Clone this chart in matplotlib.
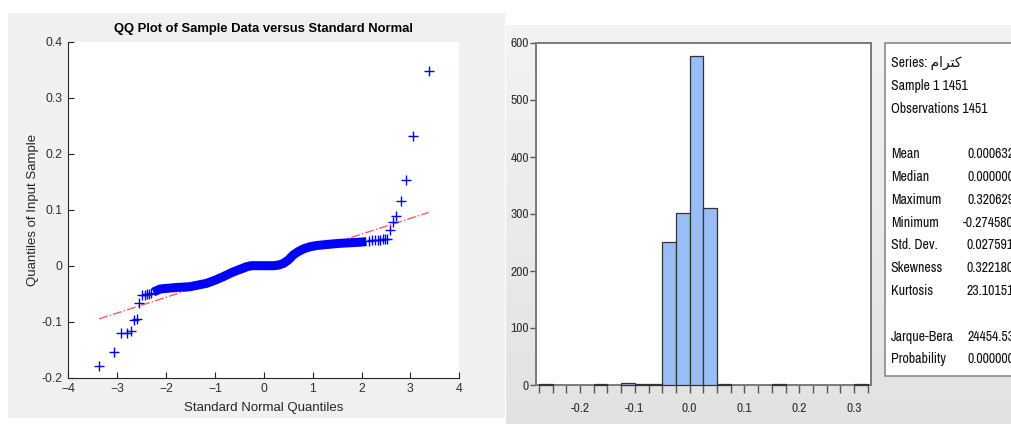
import matplotlib
matplotlib.use("Agg")
import matplotlib.pyplot as plt
import numpy as np
from matplotlib.patches import Rectangle
from matplotlib.ticker import FormatStrFormatter
from matplotlib import font_manager

# --- QQ plot data ---
# dense middle part of the sample quantiles, drawn as a thick band
band_x = [-2.26, -2.12, -1.80, -1.51, -1.17, -1.00, -0.83, -0.65, -0.49, -0.36, -0.26,
          0.00, 0.19, 0.30, 0.40, 0.50, 0.60, 0.70, 0.81, 0.95, 1.08, 1.30, 1.56, 1.97, 2.10]
band_y = [-0.047, -0.0416, -0.039, -0.0375, -0.0315, -0.026, -0.0196, -0.012, -0.0065, -0.002, 0.000,
          0.000, 0.000, 0.001, 0.004, 0.010, 0.019, 0.025, 0.030, 0.034, 0.036, 0.038, 0.040, 0.042, 0.043]
# single markers in both tails
tail_x = [-3.37, -3.06, -2.92, -2.80, -2.72, -2.65, -2.59, -2.55, -2.49, -2.44, -2.40, -2.35, -2.30,
          2.15, 2.22, 2.28, 2.33, 2.38, 2.43, 2.48, 2.53, 2.58, 2.64, 2.70, 2.80, 2.91, 3.05, 3.37]
tail_y = [-0.1795, -0.154, -0.121, -0.121, -0.117, -0.097, -0.096, -0.066, -0.0526, -0.052, -0.051, -0.050, -0.049,
          0.044, 0.045, 0.045, 0.046, 0.046, 0.047, 0.047, 0.048, 0.063, 0.078, 0.089, 0.115, 0.153, 0.232, 0.347]
ref_x = [-3.37, 3.37]
ref_y = [-0.095, 0.095]

# --- histogram data ---
bin_width = 0.025
first_edge = -0.275
counts = [1, 0, 0, 0, 1, 0, 3, 1, 1, 250, 302, 577, 311, 2, 0, 0, 0, 1, 0, 0, 0, 0, 0, 1]

stat_names = ["Mean", "Median", "Maximum", "Minimum", "Std. Dev.", "Skewness", "Kurtosis"]
stat_values = ["0.000632", "0.000000", "0.320629", "-0.274580", "0.027591", "0.322180", "23.10151"]
test_names = ["Jarque-Bera", "Probability"]
test_values = ["24454.53", "0.000000"]
# series name in Arabic (كترام), written in presentation forms in visual order
series_name = "\uFEE1\uFE8D\uFEAE\uFE98\uFEDB"

W, H = 1011, 424
fig = plt.figure(figsize=(W / 100, H / 100), dpi=100, facecolor="white")


def px_box(x0, y0, x1, y1):
    # pixel box (top-left origin) -> figure fraction rect
    return [x0 / W, 1 - y1 / H, (x1 - x0) / W, (y1 - y0) / H]


# look for a condensed face (EViews uses Arial Narrow), else shrink Liberation Sans
narrow = None
for f in font_manager.fontManager.ttflist:
    if ("Narrow" in f.name or "Condensed" in f.name) and f.style == "normal":
        narrow = f.name
        break
if narrow is None:
    narrow = "Liberation Sans"
    stat_fs, tick_fs = 8.2, 8.5
else:
    stat_fs, tick_fs = 10.0, 9.8

# panel backgrounds
fig.patches.append(Rectangle((8 / W, 1 - 418 / H), (505 - 8) / W, (418 - 13) / H,
                             transform=fig.transFigure, facecolor="#f0f0f0", edgecolor="none", zorder=-5))
bg = fig.add_axes(px_box(506, 25, W, H), zorder=-5)
bg.imshow(np.linspace(0, 1, 100)[:, None], aspect="auto", cmap=matplotlib.colors.LinearSegmentedColormap.from_list(
    "g", ["#f3f3f3", "#e2e2e2"]), extent=(0, 1, 0, 1))
bg.axis("off")

# ---------------- QQ plot ----------------
ax = fig.add_axes(px_box(68.3, 41.7, 459.3, 377.7))
ax.plot(ref_x, ref_y, color="#ff3030", lw=1.0, ls="-.", alpha=0.8, zorder=1)
ax.plot(band_x, band_y, color="#0000ff", lw=6.5, solid_capstyle="butt", solid_joinstyle="round", zorder=2)
ax.plot(tail_x, tail_y, "+", color="#0000ff", ms=6.5, mew=1.0, zorder=3)
ax.set_xlim(-4, 4)
ax.set_ylim(-0.2, 0.4)
ax.set_xticks(np.arange(-4, 5, 1))
ax.set_yticks(np.arange(-0.2, 0.41, 0.1))
ax.set_yticklabels(["-0.2", "-0.1", "0", "0.1", "0.2", "0.3", "0.4"])
ax.spines["top"].set_visible(False)
ax.spines["right"].set_visible(False)
for s in ["left", "bottom"]:
    ax.spines[s].set_color("#262626")
    ax.spines[s].set_linewidth(0.8)
ax.tick_params(direction="in", length=4, width=0.8, color="#262626", labelcolor="#303030",
               labelsize=8.8, pad=4)
for lab in ax.get_xticklabels() + ax.get_yticklabels():
    lab.set_family("Liberation Sans")
ax.set_title("QQ Plot of Sample Data versus Standard Normal", fontsize=9.4, fontweight="bold",
             family="Liberation Sans", color="#000000", pad=7)
ax.set_xlabel("Standard Normal Quantiles", fontsize=9.5, family="Liberation Sans", color="#262626", labelpad=5)
ax.set_ylabel("Quantiles of Input Sample", fontsize=9.5, family="Liberation Sans", color="#262626", labelpad=2)

# ---------------- histogram ----------------
hx = fig.add_axes(px_box(535.7, 43, 871, 385))
edges = first_edge + bin_width * np.arange(len(counts) + 1)
cnt = np.array(counts)
keep = cnt > 0
hx.bar(edges[:-1][keep], cnt[keep], width=bin_width, align="edge", color="#99bdf7",
       edgecolor="#333333", linewidth=0.9, zorder=3, clip_on=False)
hx.set_xlim(-0.281, 0.331)
hx.set_ylim(0, 600)
hx.set_yticks(np.arange(0, 601, 100))
hx.set_xticks(np.arange(-0.2, 0.31, 0.1))
hx.xaxis.set_major_formatter(FormatStrFormatter("%.1f"))
hx.set_xticks(edges, minor=True)
for s in hx.spines.values():
    s.set_color("#7a7a7a")
    s.set_linewidth(1.4)
hx.tick_params(which="both", direction="out", color="#555555", width=1.0)
hx.tick_params(axis="x", which="both", length=6, pad=7)
hx.tick_params(axis="y", length=4, pad=1)
hx.tick_params(labelsize=tick_fs, labelcolor="#333333")
for lab in hx.get_xticklabels() + hx.get_yticklabels():
    lab.set_family(narrow)

# ---------------- statistics box ----------------
fig.patches.append(Rectangle((885 / W, 1 - 376 / H), 200 / W, (376 - 43) / H,
                             transform=fig.transFigure, facecolor="white", edgecolor="#8a8a8a",
                             linewidth=1.2, zorder=1))
fam = [narrow, "DejaVu Sans"]
line_h = 22.8
top = 63
txt = dict(fontsize=stat_fs, family=fam, va="center", color="#111111")
fig.text(890.7 / W, 1 - top / H, "Series: " + series_name, **txt)
fig.text(890.7 / W, 1 - (top + line_h) / H, "Sample 1 1451", **txt)
fig.text(890.7 / W, 1 - (top + 2 * line_h) / H, "Observations 1451", **txt)
for i, (n, v) in enumerate(zip(stat_names, stat_values)):
    y = top + (4 + i) * line_h
    fig.text(890.7 / W, 1 - y / H, n, **txt)
    fig.text(1014 / W, 1 - y / H, v, ha="right", **txt)
for i, (n, v) in enumerate(zip(test_names, test_values)):
    y = top + (12 + i) * line_h
    fig.text(890.7 / W, 1 - y / H, n, **txt)
    fig.text(1014 / W, 1 - y / H, v, ha="right", **txt)

fig.savefig("out.png", dpi=100, facecolor="white")
